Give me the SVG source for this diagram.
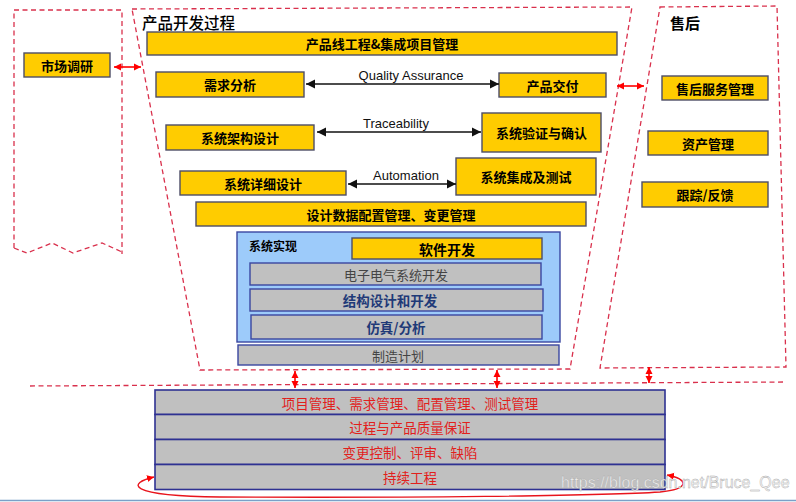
<svg xmlns="http://www.w3.org/2000/svg" width="796" height="502" viewBox="0 0 796 502">
<defs>
<style>
.region{fill:none;stroke:#d9304c;stroke-width:1.3;stroke-dasharray:5 3.5}
.yb{fill:#ffcc00;stroke:#4d4d66;stroke-width:1.4}
.gb{fill:#c0c0c0;stroke:#3a46a0;stroke-width:1.4}
.bb{fill:#c0c0c0;stroke:#2e3192;stroke-width:1.6}
.cont{fill:#9dcbfa;stroke:#3a46a0;stroke-width:1.4}
.t{font-family:"Noto Sans CJK SC","Liberation Sans",sans-serif;text-anchor:middle;dominant-baseline:central}
.tb{font-weight:bold;font-size:13px;fill:#000}
.tg{font-size:13px;fill:#444}
.tn{font-weight:bold;font-size:13.5px;fill:#1f3a78}
.tr{font-size:13.5px;fill:#e2201c}
.lbl{font-family:"Liberation Sans",Arial,sans-serif;font-size:13px;fill:#111;text-anchor:middle}
.blk{stroke:#111;stroke-width:1.4;fill:none;marker-start:url(#ak);marker-end:url(#ak)}
.red{stroke:#ff0000;stroke-width:1.6;fill:none;marker-start:url(#ar);marker-end:url(#ar)}
</style>
<marker id="ak" viewBox="0 0 10 10" refX="10" refY="5" markerWidth="9" markerHeight="10" markerUnits="userSpaceOnUse" orient="auto-start-reverse"><path d="M0,0 L10,5 L0,10 z" fill="#111"/></marker>
<marker id="ar" viewBox="0 0 10 10" refX="10" refY="5" markerWidth="7" markerHeight="9" markerUnits="userSpaceOnUse" orient="auto-start-reverse"><path d="M0,0 L10,5 L0,10 z" fill="#ff0000"/></marker>
</defs>
<rect width="796" height="502" fill="#ffffff"/>

<g id="regions">
<path class="region" d="M14,248 L14,10 L122,10 L122,254 M14,248 L27,253 L52,243 L73,253 L102,243 L122,252"/>
<path class="region" d="M132,9 L632,7 L570,369 L200,370 Z"/>
<path class="region" d="M660,7 L777,6 L786,367 L600,368 Z"/>
<path class="region" d="M30,386 L785,382"/>
</g>

<g id="titles">
<text x="142" y="29" style="font-family:'Noto Sans CJK SC',sans-serif;font-size:15.5px;fill:#000;font-weight:500">产品开发过程</text>
<text x="670" y="29" style="font-family:'Noto Sans CJK SC',sans-serif;font-size:15px;fill:#000;font-weight:bold">售后</text>
</g>

<g id="n-market"><rect class="yb" x="24" y="53" width="86" height="24"/><text class="t tb" x="67" y="65">市场调研</text></g>
<g id="n-pl"><rect class="yb" x="147" y="32" width="470" height="23"/><text class="t tb" x="382" y="43.5">产品线工程&amp;集成项目管理</text></g>
<g id="n-req"><rect class="yb" x="156" y="72" width="148" height="25"/><text class="t tb" x="230" y="84.5">需求分析</text></g>
<g id="n-deliver"><rect class="yb" x="499" y="73" width="107" height="24"/><text class="t tb" x="552.5" y="85">产品交付</text></g>
<g id="n-arch"><rect class="yb" x="166" y="125" width="148" height="25"/><text class="t tb" x="240" y="137.5">系统架构设计</text></g>
<g id="n-vv"><rect class="yb" x="482" y="113" width="119" height="39"/><text class="t tb" x="541.5" y="132.5">系统验证与确认</text></g>
<g id="n-detail"><rect class="yb" x="180" y="171" width="166" height="24"/><text class="t tb" x="263" y="183">系统详细设计</text></g>
<g id="n-integ"><rect class="yb" x="456" y="158" width="140" height="37"/><text class="t tb" x="526" y="176.5">系统集成及测试</text></g>
<g id="n-cfg"><rect class="yb" x="196" y="202" width="390" height="24"/><text class="t tb" x="391" y="214">设计数据配置管理、变更管理</text></g>

<g id="n-impl">
<rect class="cont" x="237" y="232" width="323" height="110"/>
<text x="249" y="251" style="font-family:'Noto Sans CJK SC',sans-serif;font-size:12px;font-weight:bold;fill:#000">系统实现</text>
</g>
<g id="n-sw"><rect class="yb" x="352" y="238" width="190" height="21"/><text class="t tb" x="447" y="248.5" style="font-size:14px">软件开发</text></g>
<g id="n-ee"><rect class="gb" x="250" y="263" width="291" height="22"/><text class="t tg" x="396" y="274">电子电气系统开发</text></g>
<g id="n-mech"><rect class="gb" x="250" y="289" width="293" height="22"/><text class="t tn" x="390" y="300">结构设计和开发</text></g>
<g id="n-sim"><rect class="gb" x="251" y="315" width="291" height="24"/><text class="t tn" x="396" y="327">仿真/分析</text></g>
<g id="n-mfg"><rect class="gb" x="238" y="345" width="321" height="20"/><text class="t tg" x="398" y="355">制造计划</text></g>

<g id="n-as1"><rect class="yb" x="662" y="76" width="106" height="24"/><text class="t tb" x="715" y="88">售后服务管理</text></g>
<g id="n-as2"><rect class="yb" x="648" y="131" width="120" height="24"/><text class="t tb" x="708" y="143">资产管理</text></g>
<g id="n-as3"><rect class="yb" x="642" y="182" width="126" height="25"/><text class="t tb" x="705" y="194.5">跟踪/反馈</text></g>

<g id="n-support">
<rect class="bb" x="155" y="390" width="510" height="24.5"/>
<rect class="bb" x="155" y="414.5" width="510" height="25"/>
<rect class="bb" x="155" y="439.5" width="510" height="25"/>
<rect class="bb" x="155" y="464.5" width="510" height="25"/>
<text class="t tr" x="410" y="402.5">项目管理、需求管理、配置管理、测试管理</text>
<text class="t tr" x="410" y="427">过程与产品质量保证</text>
<text class="t tr" x="410" y="452">变更控制、评审、缺陷</text>
<text class="t tr" x="410" y="477">持续工程</text>
</g>

<g id="connectors">
<line class="blk" x1="306" y1="84" x2="499" y2="84"/>
<text class="lbl" x="411" y="80">Quality Assurance</text>
<line class="blk" x1="317" y1="132" x2="481" y2="132"/>
<text class="lbl" x="396" y="128">Traceability</text>
<line class="blk" x1="348" y1="184" x2="456" y2="184"/>
<text class="lbl" x="406" y="180">Automation</text>
<line class="red" x1="114" y1="67" x2="141" y2="67"/>
<line class="red" x1="617" y1="86" x2="644" y2="86"/>
<line class="red" x1="295" y1="371" x2="295" y2="388"/>
<line class="red" x1="497" y1="370" x2="497" y2="388"/>
<line class="red" x1="649" y1="367" x2="649" y2="383"/>
<path stroke="#e8141c" stroke-width="1.4" fill="none" marker-start="url(#ar)" marker-end="url(#ar)" d="M154,477 C128,483 124,496 220,497 C400,498 600,496 660,492 C690,489 689,479 667,475"/>
</g>

<line x1="0" y1="500.5" x2="796" y2="500.5" stroke="#7aa0c8" stroke-width="1.5"/>
<text x="561" y="488" style="font-family:'Liberation Sans',Arial,sans-serif;font-size:16px;fill:#f4f4f4;stroke:#a8a8a8;stroke-width:0.4">https://blog.csdn.net/Bruce_Qee</text>
</svg>
